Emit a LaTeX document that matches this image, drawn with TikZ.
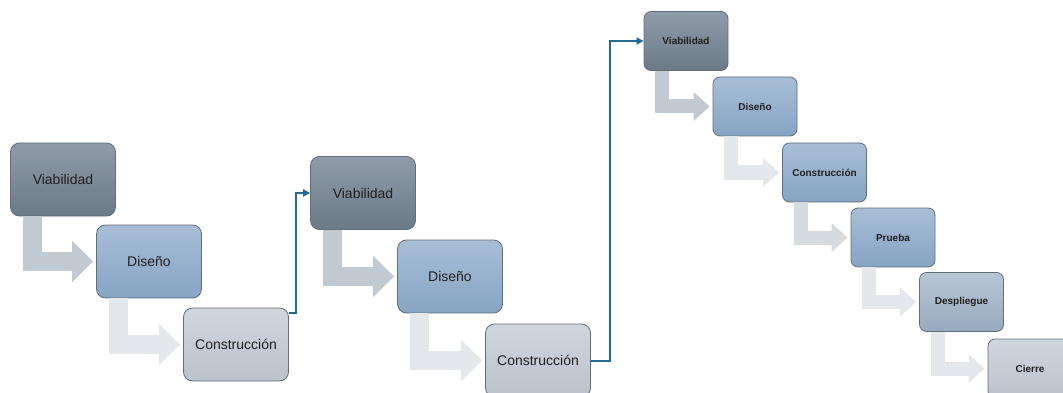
\documentclass[tikz,border=0pt]{standalone}
\usepackage{fontspec}
\setmainfont{Liberation Sans}
\usetikzlibrary{arrows.meta}
\definecolor{boxline}{RGB}{98,110,122}
\definecolor{linkblue}{RGB}{31,107,146}
\definecolor{slatetop}{RGB}{143,155,168}
\definecolor{slatebot}{RGB}{108,121,134}
\definecolor{skytop}{RGB}{168,190,214}
\definecolor{skybot}{RGB}{134,164,196}
\definecolor{hazetop}{RGB}{184,198,214}
\definecolor{hazebot}{RGB}{152,170,191}
\definecolor{misttop}{RGB}{208,214,221}
\definecolor{mistbot}{RGB}{186,194,203}
\definecolor{benddark}{RGB}{193,201,209}
\definecolor{bendmid}{RGB}{214,219,224}
\definecolor{bendpale}{RGB}{228,232,236}
\begin{document}
\begin{tikzpicture}[x=1pt,y=-1pt,
	stage/.style={draw=boxline, line width=0.8pt, rounded corners=9pt, minimum width=105pt, minimum height=73pt, inner sep=0pt, text=black!88, font=\fontsize{14}{16}\selectfont},
	minor/.style={stage, rounded corners=7pt, minimum width=84pt, minimum height=59pt, font=\fontsize{10}{12}\selectfont\bfseries},
	fillslate/.style={top color=slatetop, bottom color=slatebot},
	fillsky/.style={top color=skytop, bottom color=skybot},
	fillhaze/.style={top color=hazetop, bottom color=hazebot},
	fillmist/.style={top color=misttop, bottom color=mistbot},
	bigbend/.style={line width=19pt, line join=miter, shorten >=3pt, -{Triangle[length=21pt,width=40pt]}},
	smallbend/.style={line width=14pt, line join=miter, shorten >=3pt, -{Triangle[length=16pt,width=28pt]}},
	link/.style={draw=linkblue, line width=2pt, -{Triangle[length=7pt,width=7pt]}}]
	\useasboundingbox (0,0) rectangle (1063,393);
	% first cycle
	\node (V1) at ( 63, 179.5)	[stage, fillslate]	{Viabilidad};
	\node (D1) at (149, 261.5)	[stage, fillsky]	{Diseño};
	\node (C1) at (236, 344.5)	[stage, fillmist]	{Construcción};
	\draw[bigbend, benddark] ([xshift=22.5pt]V1.south west) |- (D1.west);
	\draw[bigbend, bendpale] ([xshift=22.5pt]D1.south west) |- (C1.west);
	% second cycle
	\node (V2) at (363, 193)	[stage, fillslate]	{Viabilidad};
	\node (D2) at (450, 276.5)	[stage, fillsky]	{Diseño};
	\node (C2) at (538, 360.5)	[stage, fillmist]	{Construcción};
	\draw[bigbend, benddark] ([xshift=22.5pt]V2.south west) |- (D2.west);
	\draw[bigbend, bendpale] ([xshift=22.5pt]D2.south west) |- (C2.west);
	% full cycle
	\node (V3) at ( 686, 41)	[minor, fillslate]	{Viabilidad};
	\node (D3) at ( 755, 106.5)	[minor, fillsky]	{Diseño};
	\node (C3) at ( 824.5, 172.5)	[minor, fillsky]	{Construcción};
	\node (P3) at ( 893, 237.5)	[minor, fillsky]	{Prueba};
	\node (S3) at ( 961.5, 302)	[minor, fillhaze]	{Despliegue};
	\node (Z3) at (1030, 368.5)	[minor, fillmist]	{Cierre};
	\draw[smallbend, benddark] ([xshift=18.5pt]V3.south west) |- (D3.west);
	\draw[smallbend, bendpale] ([xshift=18.5pt]D3.south west) |- (C3.west);
	\draw[smallbend, bendmid] ([xshift=18.5pt]C3.south west) |- (P3.west);
	\draw[smallbend, bendpale] ([xshift=18.5pt]P3.south west) |- (S3.west);
	\draw[smallbend, bendpale] ([xshift=18.5pt]S3.south west) |- (Z3.west);
	% iterations
	\draw[link] ([yshift=-5pt]C1.north east) -- ++(7,0) |- (V2.west);
	\draw[link] (C2.east) -- ++(19,0) |- (V3.west);
\end{tikzpicture}
\end{document}
